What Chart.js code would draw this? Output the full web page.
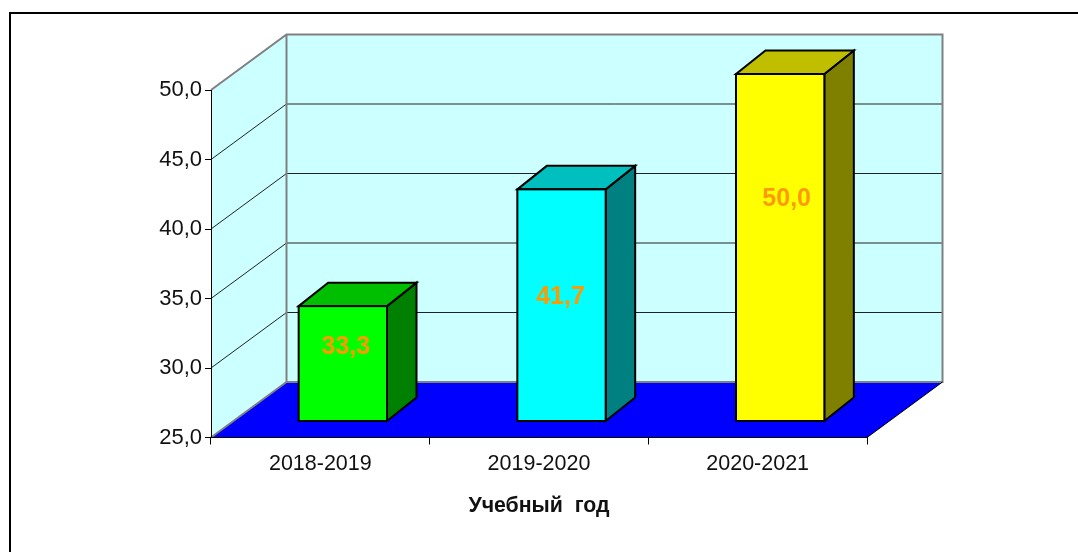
<!DOCTYPE html>
<html>
<head>
<meta charset="utf-8">
<style>
html,body{margin:0;padding:0;background:#fff;overflow:hidden}
#wrap{position:absolute;left:0;top:0;width:1078px;height:552px;overflow:hidden}
#frame{position:absolute;left:9px;top:12px;right:0;bottom:0;border-top:2px solid #000;border-left:2px solid #000;pointer-events:none}
canvas{display:block}
</style>
<script src="https://cdn.jsdelivr.net/npm/chart.js@4/dist/chart.umd.min.js"></script>
</head>
<body>
<div id="wrap"><canvas id="c" width="1078" height="552"></canvas><div id="frame"></div></div>
<script>
const categories = ['2018-2019','2019-2020','2020-2021'];
const values = [33.3,41.7,50.0];
const axisTitle = 'Учебный  год';
const frontColors = ['#00FF00','#00FFFF','#FFFF00'];
const topColors = ['#00BF00','#00BFBF','#BFBF00'];
const sideColors = ['#008000','#008080','#808000'];
const labelOffsetX = [3,-1,6.5];
const labelOffsetY = [41,108,125];
const fontFamily = '"Liberation Sans", Arial, sans-serif';
const fmt = v => Number(v).toFixed(1).replace('.',',');

const WALL_DX = 75.5, WALL_DY = -55.5;
const BAR_SHIFT_X = 22.5, BAR_SHIFT_Y = -16;
const BAR_DX = 29.5, BAR_DY = -23.5;

const threeD = {
  id:'threeD',
  beforeDraw(chart){
    const {ctx,chartArea:a,scales:{y}} = chart;
    const L=a.left,R=a.right,T=a.top,B=a.bottom;
    ctx.save();
    ctx.fillStyle='#CCFFFF';
    ctx.beginPath();
    ctx.moveTo(L,T);ctx.lineTo(L+WALL_DX,T+WALL_DY);ctx.lineTo(R+WALL_DX,T+WALL_DY);
    ctx.lineTo(R+WALL_DX,B+WALL_DY);ctx.lineTo(L+WALL_DX,B+WALL_DY);ctx.lineTo(L,B);ctx.closePath();ctx.fill();
    ctx.fillStyle='#0000FF';
    ctx.beginPath();
    ctx.moveTo(L,B);ctx.lineTo(L+WALL_DX,B+WALL_DY);ctx.lineTo(R+WALL_DX,B+WALL_DY);ctx.lineTo(R,B);ctx.closePath();ctx.fill();
    ctx.lineWidth=1;ctx.strokeStyle='#222';
    y.ticks.forEach(t=>{
      if(t.value<=y.min||t.value>=y.max) return;
      const p=y.getPixelForValue(t.value);
      ctx.beginPath();
      ctx.moveTo(L,p);ctx.lineTo(L+WALL_DX,p+WALL_DY);ctx.lineTo(R+WALL_DX,p+WALL_DY);
      ctx.stroke();
    });
    ctx.strokeStyle='#808080';ctx.lineWidth=2;
    ctx.beginPath();
    ctx.moveTo(L,T);ctx.lineTo(L+WALL_DX,T+WALL_DY);ctx.lineTo(R+WALL_DX,T+WALL_DY);ctx.lineTo(R+WALL_DX,B+WALL_DY);
    ctx.lineTo(L+WALL_DX,B+WALL_DY);ctx.lineTo(L,B);
    ctx.moveTo(L+WALL_DX,T+WALL_DY);ctx.lineTo(L+WALL_DX,B+WALL_DY);
    ctx.stroke();
    ctx.strokeStyle='#000';ctx.lineWidth=1;
    ctx.beginPath();ctx.moveTo(R,B);ctx.lineTo(R+WALL_DX,B+WALL_DY);ctx.stroke();
    ctx.restore();
  },
  beforeDatasetDraw(chart){
    const {ctx}=chart;
    ctx.save();
    ctx.translate(BAR_SHIFT_X,BAR_SHIFT_Y);
    chart.getDatasetMeta(0).data.forEach((b,i)=>{
      const l=b.x-b.width/2,r=b.x+b.width/2,t=b.y,bt=b.base;
      ctx.lineWidth=2;ctx.strokeStyle='#000';ctx.lineJoin='miter';
      ctx.fillStyle=sideColors[i];
      ctx.beginPath();ctx.moveTo(r,t);ctx.lineTo(r+BAR_DX,t+BAR_DY);ctx.lineTo(r+BAR_DX,bt+BAR_DY);ctx.lineTo(r,bt);ctx.closePath();ctx.fill();ctx.stroke();
      ctx.fillStyle=topColors[i];
      ctx.beginPath();ctx.moveTo(l,t);ctx.lineTo(l+BAR_DX,t+BAR_DY);ctx.lineTo(r+BAR_DX,t+BAR_DY);ctx.lineTo(r,t);ctx.closePath();ctx.fill();ctx.stroke();
    });
  },
  afterDatasetDraw(chart){
    const {ctx}=chart;
    ctx.lineWidth=2;ctx.strokeStyle='#000';
    chart.getDatasetMeta(0).data.forEach(b=>{
      ctx.strokeRect(b.x-b.width/2,b.y,b.width,b.base-b.y);
    });
    ctx.restore();
    ctx.save();
    ctx.font='bold 25px '+fontFamily;
    ctx.fillStyle='#FF9900';ctx.textAlign='center';ctx.textBaseline='middle';
    chart.getDatasetMeta(0).data.forEach((b,i)=>{
      ctx.fillText(fmt(values[i]),b.x+BAR_SHIFT_X+labelOffsetX[i],b.y+BAR_SHIFT_Y+labelOffsetY[i]);
    });
    ctx.restore();
  }
};

new Chart(document.getElementById('c'),{
  type:'bar',
  data:{labels:categories,datasets:[{
    data:values,
    base:25,
    clip:false,
    backgroundColor:frontColors,
    borderWidth:0,
    barPercentage:0.404,
    categoryPercentage:1
  }]},
  plugins:[threeD],
  options:{
    responsive:false,
    animation:false,
    events:[],
    layout:{padding:{left:0,right:211,top:90,bottom:0}},
    plugins:{legend:{display:false},title:{display:false},tooltip:{enabled:false}},
    scales:{
      x:{
        type:'category',
        offset:true,
        afterFit(s){s.height=114.5;},
        grid:{offset:true,drawOnChartArea:false,drawTicks:true,tickLength:7,color:'#000',lineWidth:1},
        border:{display:true,color:'#000',width:1},
        ticks:{color:'#111',font:{family:fontFamily,size:21.5},padding:7,maxRotation:0},
        title:{display:true,text:axisTitle,color:'#111',font:{family:fontFamily,size:21.3,weight:'bold'},padding:{top:14,bottom:33}}
      },
      y:{
        min:25,max:50,
        afterFit(s){s.width=211;},
        grid:{drawOnChartArea:false,drawTicks:true,tickLength:6,color:'#000',lineWidth:1},
        border:{display:true,color:'#000',width:1},
        ticks:{stepSize:5,color:'#111',font:{family:fontFamily,size:22},padding:3,callback:v=>fmt(v)}
      }
    }
  }
});
</script>
</body>
</html>
